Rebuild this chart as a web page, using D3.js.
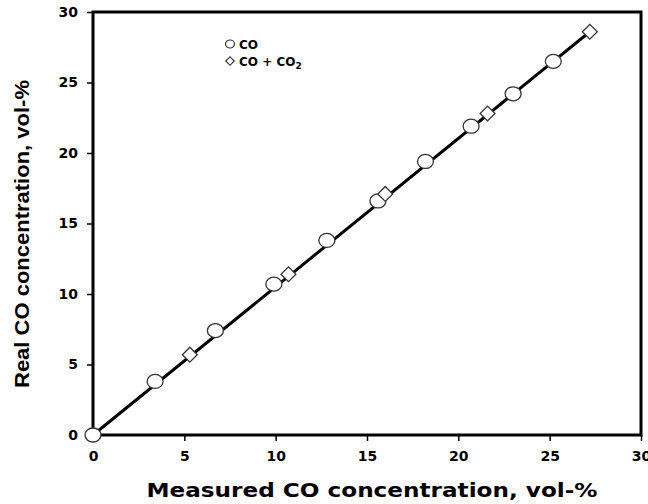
<!DOCTYPE html>
<html>
<head>
<meta charset="utf-8">
<script src="https://cdn.jsdelivr.net/npm/d3@7"></script>
<style>
  body { margin: 0; background: #fff; }
  svg { display: block; }
</style>
</head>
<body>
<div id="chart"></div>
<script>
// measured vs real CO
const coMeasured = [0, 3.4, 6.7, 9.9, 12.8, 15.6, 18.2, 20.7, 23.0, 25.2];
const coReal     = [0, 3.8, 7.4, 10.7, 13.8, 16.6, 19.4, 21.9, 24.2, 26.5];

const co2Measured = [5.3, 10.7, 16.0, 21.6, 27.2];
const co2Real     = [5.7, 11.4, 17.1, 22.8, 28.6];

// fitted line endpoints
const fitX = [0, 27.2];
const fitY = [0, 28.6];

const xTicks = [0, 5, 10, 15, 20, 25, 30];
const yTicks = [0, 5, 10, 15, 20, 25, 30];

const width = 648, height = 504;
const margin = {top: 12, right: 7, bottom: 69, left: 93};
const innerW = width - margin.left - margin.right,
      innerH = height - margin.top - margin.bottom;

const svg = d3.select("#chart").append("svg")
    .attr("width", width)
    .attr("height", height);

const g = svg.append("g")
    .attr("transform", `translate(${margin.left},${margin.top})`);

const x = d3.scaleLinear().domain([0, 30]).range([0, innerW]);
const y = d3.scaleLinear().domain([0, 30]).range([innerH, 0]);

// frame
g.append("rect")
    .attr("width", innerW)
    .attr("height", innerH)
    .attr("fill", "none")
    .attr("stroke", "#000")
    .attr("stroke-width", 3);

// axes
const xAxis = g.append("g")
    .attr("transform", `translate(0,${innerH})`)
    .call(d3.axisBottom(x).tickValues(xTicks).tickSize(6).tickPadding(10));
const yAxis = g.append("g")
    .call(d3.axisLeft(y).tickValues(yTicks).tickSize(6).tickPadding(9));

[xAxis, yAxis].forEach(a => {
    a.select(".domain").remove();
    a.selectAll(".tick line").attr("stroke", "#000").attr("stroke-width", 1.5);
    a.selectAll(".tick text")
        .attr("fill", "#000")
        .style("font-family", "DejaVu Sans, Verdana, sans-serif")
        .style("font-weight", "bold")
        .style("font-size", "14px");
});

// fit line
g.append("path")
    .datum(fitX.map((v, i) => [v, fitY[i]]))
    .attr("fill", "none")
    .attr("stroke", "#000")
    .attr("stroke-width", 3)
    .attr("d", d3.line().x(d => x(d[0])).y(d => y(d[1])));

// CO circles
g.selectAll(".co")
    .data(coMeasured.map((v, i) => [v, coReal[i]]))
    .enter().append("ellipse")
    .attr("cx", d => x(d[0]))
    .attr("cy", d => y(d[1]))
    .attr("rx", 8)
    .attr("ry", 7)
    .attr("fill", "#fff")
    .attr("stroke", "#333")
    .attr("stroke-width", 1.3);

// CO + CO2 diamonds
const diamond = d3.symbol().type(d3.symbolSquare).size(110);
g.selectAll(".co2")
    .data(co2Measured.map((v, i) => [v, co2Real[i]]))
    .enter().append("path")
    .attr("d", diamond)
    .attr("transform", d => `translate(${x(d[0])},${y(d[1])}) rotate(45)`)
    .attr("fill", "#fff")
    .attr("stroke", "#333")
    .attr("stroke-width", 1.3);

// legend
const legend = svg.append("g").attr("transform", "translate(230,44)");
legend.append("ellipse")
    .attr("cx", 0).attr("cy", 0).attr("rx", 4.5).attr("ry", 4)
    .attr("fill", "#fff").attr("stroke", "#333").attr("stroke-width", 1.2);
legend.append("path")
    .attr("d", d3.symbol().type(d3.symbolSquare).size(36))
    .attr("transform", "translate(0,17) rotate(45)")
    .attr("fill", "#fff").attr("stroke", "#333").attr("stroke-width", 1.2);

const legendFont = "DejaVu Sans, Verdana, sans-serif";
legend.append("text")
    .attr("x", 9).attr("y", 4.5)
    .style("font-family", legendFont).style("font-weight", "bold").style("font-size", "12px")
    .text("CO");
const t2 = legend.append("text")
    .attr("x", 9).attr("y", 21.5)
    .style("font-family", legendFont).style("font-weight", "bold").style("font-size", "12px");
t2.append("tspan").text("CO + CO");
t2.append("tspan").attr("dy", 3).style("font-size", "9px").text("2");

// axis titles
svg.append("text")
    .attr("x", 372)
    .attr("y", 497)
    .attr("text-anchor", "middle")
    .attr("textLength", 451)
    .attr("lengthAdjust", "spacingAndGlyphs")
    .style("font-family", "DejaVu Sans, Verdana, sans-serif")
    .style("font-weight", "bold")
    .style("font-size", "20px")
    .text("Measured CO concentration, vol-%");

svg.append("text")
    .attr("transform", `translate(29,${234}) rotate(-90)`)
    .attr("text-anchor", "middle")
    .attr("textLength", 308)
    .attr("lengthAdjust", "spacingAndGlyphs")
    .style("font-family", "Liberation Sans, Arial, sans-serif")
    .style("font-weight", "bold")
    .style("font-size", "21px")
    .text("Real CO concentration, vol-%");
</script>
</body>
</html>
